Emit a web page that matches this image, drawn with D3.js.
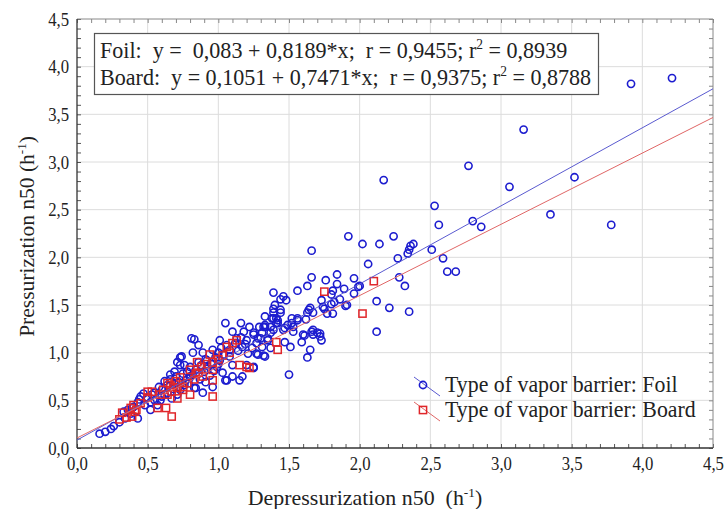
<!DOCTYPE html>
<html>
<head>
<meta charset="utf-8">
<script src="https://cdn.jsdelivr.net/npm/d3@7"></script>
<style>
  body { margin: 0; background: #fff; }
  svg text { font-family: "Liberation Serif", "DejaVu Serif", serif; fill: #222; }
</style>
</head>
<body>
<div id="chart"></div>
<script>
// DATA ////////////////////////////////////////////////////////////
// depressurization n50 vs pressurization n50, foil vapor barrier
var foilPoints = [
  [4.21,3.88],[3.92,3.82],[3.16,3.34],[3.06,2.74],[3.52,2.84],[3.35,2.45],[3.78,2.34],[2.86,2.32],
  [2.17,2.81],[2.77,2.96],[2.53,2.54],[2.56,2.34],[2.80,2.38],
  [2.24,2.22],[2.14,2.14],[2.02,2.14],[2.38,2.14],[2.36,2.12],[2.35,2.08],[2.34,2.04],[2.51,2.08],
  [2.27,1.99],[2.59,1.99],[2.62,1.85],[2.68,1.85],[2.06,1.93],[2.28,1.79],[2.32,1.70],[2.12,1.54],
  [2.21,1.47],[2.35,1.43],[2.00,1.70],
  [1.92,2.22],[1.66,2.07],[1.84,1.82],[1.66,1.79],[1.76,1.76],[1.96,1.78],[1.63,1.70],[1.56,1.65],
  [1.84,1.72],[1.81,1.65],[1.89,1.67],[1.99,1.69],[1.96,1.62],[1.46,1.59],[1.48,1.55],[1.73,1.55],
  [1.82,1.53],[1.86,1.56],[1.80,1.51],[1.74,1.48],[1.90,1.49],[1.40,1.50],[1.39,1.46],[1.44,1.45],
  [1.65,1.47],[1.64,1.45],[1.63,1.42],[1.77,1.41],[1.81,1.41],[1.39,1.36],[1.42,1.34],[1.52,1.36],
  [1.56,1.36],[1.62,1.35],[1.33,1.29],[1.41,1.31],[2.12,1.22],[1.67,1.24],[1.72,1.20],[1.61,1.18],
  [1.53,1.27],[1.49,1.29],[1.29,1.27],
  [1.50,0.77],[1.65,1.03],[1.63,0.95],[1.32,0.97],[1.73,1.13],[1.59,1.11],[1.51,1.06],[1.25,0.84],
  [1.27,0.99],[1.80,1.61],[1.91,1.50],[1.75,1.46],[1.67,1.42],[1.56,1.34],[1.52,1.31],[1.44,1.42],
  [1.41,1.36],[1.33,1.38],[1.32,1.27],[1.37,1.27],[1.46,1.24],[1.53,1.22],[1.60,1.19],[1.66,1.22],
  [1.67,1.19],[1.25,1.19],[1.30,1.15],[1.35,1.15],[1.37,1.21],[1.27,1.10],[1.70,1.21],[1.72,1.17],
  [1.39,1.42],[1.38,1.36],[1.42,1.31],[1.05,1.31],[1.16,1.31],[1.22,1.27],[1.33,1.27],[1.10,1.22],
  [1.18,1.22],[1.25,1.21],[1.31,1.21],[1.39,1.24],[1.47,1.26],[1.13,1.15],[1.20,1.13],[1.28,1.15],
  [1.35,1.13],[1.01,1.13],[0.83,1.14],[1.17,1.06],[1.24,1.05],[1.31,1.06],[1.37,1.05],[0.89,1.00],
  [0.96,1.03],[0.82,1.00],[1.21,0.99],[1.28,0.98],[1.33,0.96],[0.74,0.96],[0.91,0.93],[1.01,0.92],
  [1.08,0.96],[1.10,0.87],[1.20,0.87],[1.25,0.85],[0.71,0.90],[0.76,0.87],[0.86,0.90],[0.92,0.83],
  [0.99,0.85],[1.03,0.79],[1.10,0.75],[1.05,0.71],[1.17,0.75],[0.91,0.69],[0.96,0.64],[0.80,0.75],
  [0.83,0.63],[0.89,0.58],[0.71,0.56],[1.47,1.11],[1.39,1.63],[1.44,1.56],
  [0.16,0.15],[0.20,0.17],[0.24,0.20],[0.26,0.23],[0.30,0.27],[0.34,0.31],[0.33,0.38],[0.36,0.40],
  [0.43,0.31],[0.40,0.43],[0.43,0.48],[0.48,0.45],[0.52,0.48],[0.52,0.40],[0.57,0.45],[0.53,0.56],
  [0.60,0.54],[0.64,0.58],[0.60,0.61],[0.64,0.66],[0.67,0.52],[0.73,0.61],[0.72,0.69],[0.76,0.66],
  [0.80,0.74],[0.84,0.63],[0.73,0.95],[0.73,0.87],[0.69,0.80],[0.66,0.77],[0.81,1.15],[0.86,1.08],
  [0.59,0.50],[0.45,0.54],[1.06,0.71],[1.15,0.71],
  [0.62,0.70],[0.66,0.72],[0.70,0.75],[0.68,0.62],[0.75,0.78],[0.78,0.80],[0.80,0.85],[0.84,0.82],
  [0.88,0.87],[0.86,0.78],[0.92,0.92],[0.95,0.88],[0.98,0.95],[1.00,1.00],[1.02,1.05],[1.04,0.98],
  [1.06,1.08],[1.08,1.03],[1.12,1.10],[1.14,1.02],[1.16,1.16],[1.19,1.09],[0.55,0.58],[0.58,0.64],
  [0.50,0.53],[0.47,0.57],[0.44,0.51],[0.38,0.36],[0.39,0.42],[0.55,0.50],[0.62,0.56],[0.77,0.71],
  [0.82,0.77],[0.90,0.80],[0.94,0.76],[0.97,0.81],[1.00,0.88],[0.69,0.67],[0.72,0.64],[0.79,0.68],
  [0.87,0.72]
];

// board vapor barrier
var boardPoints = [
  [2.10,1.75],[2.02,1.41],[1.75,1.64],[1.41,1.11],[1.42,1.03],[1.22,0.84],
  [1.13,1.13],[1.06,1.06],[1.10,1.10],[0.94,0.98],[0.96,0.90],[1.15,0.87],[1.20,0.85],[0.88,0.85],
  [0.96,0.82],[0.80,0.82],[0.89,0.75],[0.96,0.71],[0.96,0.54],[0.73,0.74],[0.78,0.68],[0.68,0.64],
  [0.75,0.61],[0.80,0.56],[0.71,0.52],
  [0.50,0.59],[0.50,0.53],[0.53,0.59],[0.40,0.45],[0.38,0.42],[0.39,0.33],[0.41,0.38],[0.35,0.32],
  [0.30,0.30],[0.32,0.37],[0.57,0.42],[0.63,0.42],[0.67,0.33],[0.64,0.56],[0.67,0.59],[0.71,0.63],
  [0.75,0.64],[0.83,0.72],[0.86,0.79],[0.59,0.56],[0.64,0.68],
  [0.92,0.88],[1.00,0.93],[1.03,0.97],[1.08,1.00],[0.84,0.78],[0.70,0.70],[0.66,0.66],[0.61,0.61],
  [0.45,0.47],[0.42,0.40],[0.85,0.90]
];

// fitted lines: intercept, slope
var foilFit = { a: 0.083, b: 0.8189 };
var boardFit = { a: 0.1051, b: 0.7471 };

var majorTicks = [0, 0.5, 1, 1.5, 2, 2.5, 3, 3.5, 4, 4.5];
var fitText = [
  ["Foil:  y =  0,083 + 0,8189*x;  r = 0,9455; r", "2", " = 0,8939"],
  ["Board:  y = 0,1051 + 0,7471*x;  r = 0,9375; r", "2", " = 0,8788"]
];
var legendLabels = ["Type of vapor barrier: Foil", "Type of vapor barrier: Board"];

// SETUP ///////////////////////////////////////////////////////////
var width = 725, height = 509;
var margin = { top: 19, right: 12, bottom: 61, left: 77 };
var plotW = width - margin.left - margin.right;
var plotH = height - margin.top - margin.bottom;

var blue = "#1c1ccf", red = "#e0262a";

var x = d3.scaleLinear().domain([0, 4.5]).range([0, plotW]);
var y = d3.scaleLinear().domain([0, 4.5]).range([plotH, 0]);
var fmt = function(d){ return d3.format(".1f")(d).replace(".", ","); };

var svg = d3.select("#chart").append("svg")
  .attr("width", width).attr("height", height);

var g = svg.append("g").attr("transform", "translate(" + margin.left + "," + margin.top + ")");

// GRID ////////////////////////////////////////////////////////////
g.append("g").selectAll("line").data(majorTicks.slice(1, -1)).enter().append("line")
  .attr("x1", function(d){ return x(d); }).attr("x2", function(d){ return x(d); })
  .attr("y1", 0).attr("y2", plotH)
  .attr("stroke", "#dcdcdc").attr("stroke-width", 1);
g.append("g").selectAll("line").data(majorTicks.slice(1, -1)).enter().append("line")
  .attr("y1", function(d){ return y(d); }).attr("y2", function(d){ return y(d); })
  .attr("x1", 0).attr("x2", plotW)
  .attr("stroke", "#dcdcdc").attr("stroke-width", 1);

// AXES (inward minor ticks on all sides) //////////////////////////
var minor = d3.range(0, 46).map(function(i){ return i / 10; });

function styleAxis(sel, col){
  sel.select(".domain").remove();
  sel.selectAll(".tick line").attr("stroke", col);
}

var xb = g.append("g").attr("transform", "translate(0," + plotH + ")")
  .call(d3.axisTop(x).tickValues(minor).tickSize(4).tickFormat(""));
styleAxis(xb, "#555");
var xt = g.append("g").call(d3.axisBottom(x).tickValues(minor).tickSize(4).tickFormat(""));
styleAxis(xt, "#888");
var yl = g.append("g").call(d3.axisRight(y).tickValues(minor).tickSize(4).tickFormat(""));
styleAxis(yl, "#555");
var yr = g.append("g").attr("transform", "translate(" + plotW + ",0)")
  .call(d3.axisLeft(y).tickValues(minor).tickSize(4).tickFormat(""));
styleAxis(yr, "#888");

// tick labels (serif, slightly narrow like the original)
var xl = g.append("g").attr("transform", "translate(0," + plotH + ")")
  .call(d3.axisBottom(x).tickValues(majorTicks).tickSize(0).tickPadding(9).tickFormat(fmt));
xl.select(".domain").remove();
xl.selectAll("text").style("font-size", "19px").attr("fill", "#333")
  .attr("transform", "scale(0.88,1)");

var yLab = g.append("g")
  .call(d3.axisLeft(y).tickValues(majorTicks).tickSize(0).tickPadding(9).tickFormat(fmt));
yLab.select(".domain").remove();
yLab.selectAll("text").style("font-size", "19px").attr("fill", "#333")
  .attr("transform", "scale(0.88,1)");

// frame
g.append("line").attr("x1", 0).attr("x2", plotW).attr("y1", 0).attr("y2", 0).attr("stroke", "#888");
g.append("line").attr("x1", plotW).attr("x2", plotW).attr("y1", 0).attr("y2", plotH).attr("stroke", "#888");
g.append("line").attr("x1", 0).attr("x2", 0).attr("y1", 0).attr("y2", plotH).attr("stroke", "#333").attr("stroke-width", 1.3);
g.append("line").attr("x1", 0).attr("x2", plotW).attr("y1", plotH).attr("y2", plotH).attr("stroke", "#333").attr("stroke-width", 1.3);

// POINTS //////////////////////////////////////////////////////////
var plot = g.append("g");

plot.append("g").selectAll("circle").data(foilPoints).enter().append("circle")
  .attr("cx", function(d){ return x(d[0]); })
  .attr("cy", function(d){ return y(d[1]); })
  .attr("r", 3.6)
  .attr("fill", "none").attr("stroke", blue).attr("stroke-width", 1.6);

plot.append("g").selectAll("rect").data(boardPoints).enter().append("rect")
  .attr("x", function(d){ return x(d[0]) - 3.6; })
  .attr("y", function(d){ return y(d[1]) - 3.6; })
  .attr("width", 7.2).attr("height", 7.2)
  .attr("fill", "none").attr("stroke", red).attr("stroke-width", 1.5);

// FIT LINES ///////////////////////////////////////////////////////
[[foilFit, "#5a5ad0"], [boardFit, "#e06666"]].forEach(function(f){
  plot.append("line")
    .attr("x1", x(0)).attr("y1", y(f[0].a))
    .attr("x2", x(4.5)).attr("y2", y(f[0].a + f[0].b * 4.5))
    .attr("stroke", f[1]).attr("stroke-width", 1);
});

// ANNOTATION BOX //////////////////////////////////////////////////
var box = svg.append("g");
box.append("rect").attr("x", 94.5).attr("y", 33.5).attr("width", 504).attr("height", 61)
  .attr("fill", "#fff").attr("stroke", "#555").attr("stroke-width", 1.2);
fitText.forEach(function(parts, i){
  var t = box.append("text")
    .attr("transform", "translate(100," + (58 + i * 27) + ") scale(0.96,1)")
    .style("font-size", "23px").style("white-space", "pre");
  t.append("tspan").text(parts[0]);
  t.append("tspan").attr("dy", -9).style("font-size", "14px").text(parts[1]);
  t.append("tspan").attr("dy", 9).text(parts[2]);
});

// LEGEND //////////////////////////////////////////////////////////
var leg = svg.append("g");
legendLabels.forEach(function(label, i){
  var cy = 385 + i * 25;
  var col = i === 0 ? "#5a5ad0" : "#e06666";
  leg.append("line").attr("x1", 414).attr("y1", cy - 8).attr("x2", 440).attr("y2", cy + 11)
    .attr("stroke", col).attr("stroke-width", 1);
  if (i === 0) {
    leg.append("circle").attr("cx", 423).attr("cy", cy).attr("r", 3.6)
      .attr("fill", "none").attr("stroke", blue).attr("stroke-width", 1.6);
  } else {
    leg.append("rect").attr("x", 419.4).attr("y", cy - 3.6).attr("width", 7.2).attr("height", 7.2)
      .attr("fill", "none").attr("stroke", red).attr("stroke-width", 1.5);
  }
  leg.append("text").attr("transform", "translate(445," + (cy + 7) + ") scale(0.95,1)")
    .style("font-size", "23px").text(label);
});

// AXIS TITLES /////////////////////////////////////////////////////
var xt2 = svg.append("text").attr("transform", "translate(365,505) scale(1.02,1)")
  .attr("text-anchor", "middle").style("font-size", "21.5px").style("white-space", "pre");
xt2.append("tspan").text("Depressurization n50  (h");
xt2.append("tspan").attr("dy", -8).style("font-size", "13px").text("-1");
xt2.append("tspan").attr("dy", 8).text(")");

var yt2 = svg.append("text")
  .attr("transform", "translate(34," + (margin.top + plotH / 2 + 3) + ") rotate(-90)")
  .attr("text-anchor", "middle").style("font-size", "21.5px");
yt2.append("tspan").text("Pressurization n50 (h");
yt2.append("tspan").attr("dy", -8).style("font-size", "13px").text("-1");
yt2.append("tspan").attr("dy", 8).text(")");
</script>
</body>
</html>
